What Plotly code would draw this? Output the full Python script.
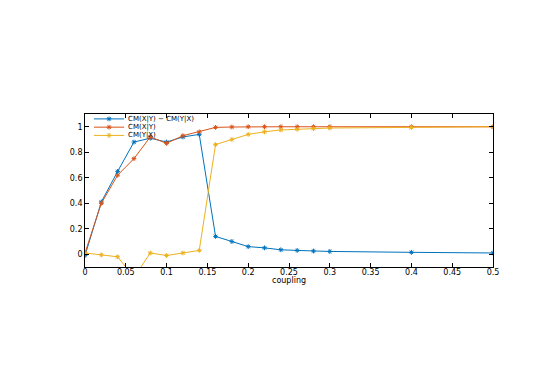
import plotly.graph_objects as go

coupling = [0, 0.02, 0.04, 0.06, 0.08, 0.1, 0.12, 0.14, 0.16, 0.18,
            0.2, 0.22, 0.24, 0.26, 0.28, 0.3, 0.4, 0.5]
diff = [-0.01, 0.41, 0.65, 0.88, 0.91, 0.88, 0.92, 0.94, 0.14, 0.10,
        0.06, 0.05, 0.035, 0.03, 0.025, 0.022, 0.015, 0.01]
cm_xy = [0.01, 0.40, 0.62, 0.75, 0.92, 0.87, 0.93, 0.96, 0.995, 0.998,
         1.0, 1.0, 1.0, 1.0, 1.0, 1.0, 1.0, 1.0]
cm_yx = [0.01, -0.005, -0.02, -0.18, 0.01, -0.01, 0.01, 0.03, 0.86, 0.90,
         0.94, 0.96, 0.975, 0.98, 0.985, 0.99, 0.995, 1.0]

names = ["CM(X|Y) \u2212 CM(Y|X)", "CM(X|Y)", "CM(Y|X)"]
colors = ["#0072BD", "#D95319", "#EDB120"]
series = [diff, cm_xy, cm_yx]

FONT = "DejaVu Sans, Liberation Sans, Arial"

fig = go.Figure()
for ys, c, n in zip(series, colors, names):
    fig.add_trace(go.Scatter(
        x=coupling, y=ys, mode="lines+markers", name=n,
        line=dict(color=c, width=1),
        marker=dict(symbol="asterisk-open", size=4, color=c,
                    line=dict(color=c, width=1)),
        cliponaxis=True, showlegend=False))

# hand-made legend (matlab style, tight rows, no box)
leg_y = [0.968, 0.914, 0.860]
for i, (c, n) in enumerate(zip(colors, names)):
    fig.add_shape(type="line", xref="paper", yref="paper",
                  x0=0.022, x1=0.096, y0=leg_y[i], y1=leg_y[i],
                  line=dict(color=c, width=1))
    fig.add_trace(go.Scatter(
        x=[0.059], y=[leg_y[i]], xaxis="x2", yaxis="y2", mode="markers",
        marker=dict(symbol="asterisk-open", size=4, color=c,
                    line=dict(color=c, width=1)),
        showlegend=False, hoverinfo="skip"))
    fig.add_annotation(x=0.103, y=leg_y[i], xref="paper", yref="paper",
                       text=n, showarrow=False, xanchor="left",
                       yanchor="middle",
                       font=dict(family=FONT, size=7, color="black"),
                       borderpad=0)

fig.add_annotation(x=0.5, y=-0.088, xref="paper", yref="paper",
                   text="coupling", showarrow=False, xanchor="center",
                   yanchor="middle", borderpad=0,
                   font=dict(family=FONT, size=8, color="black"))

axis_common = dict(showline=True, linecolor="black", linewidth=0.8,
                   mirror="ticks", ticks="inside", ticklen=4,
                   tickcolor="black", tickwidth=0.8, showgrid=False,
                   zeroline=False,
                   tickfont=dict(family=FONT, size=8, color="black"))

fig.update_layout(
    width=545, height=365,
    margin=dict(l=77, r=60, t=106, b=106),
    paper_bgcolor="white", plot_bgcolor="white",
    font=dict(family=FONT, color="black"),
    xaxis=dict(range=[0, 0.5], tickvals=[0, 0.05, 0.1, 0.15, 0.2, 0.25,
                                          0.3, 0.35, 0.4, 0.45, 0.5],
               ticktext=["0", "0.05", "0.1", "0.15", "0.2", "0.25", "0.3",
                         "0.35", "0.4", "0.45", "0.5"],
               ticklabelstandoff=-3,
               **axis_common),
    yaxis=dict(range=[-0.1, 1.1], tickvals=[0, 0.2, 0.4, 0.6, 0.8, 1],
               ticktext=["0", "0.2", "0.4", "0.6", "0.8", "1"],
               **axis_common),
    xaxis2=dict(range=[0, 1], overlaying="x", visible=False),
    yaxis2=dict(range=[0, 1], overlaying="y", visible=False),
    showlegend=False,
)

fig.write_html("out.html")
